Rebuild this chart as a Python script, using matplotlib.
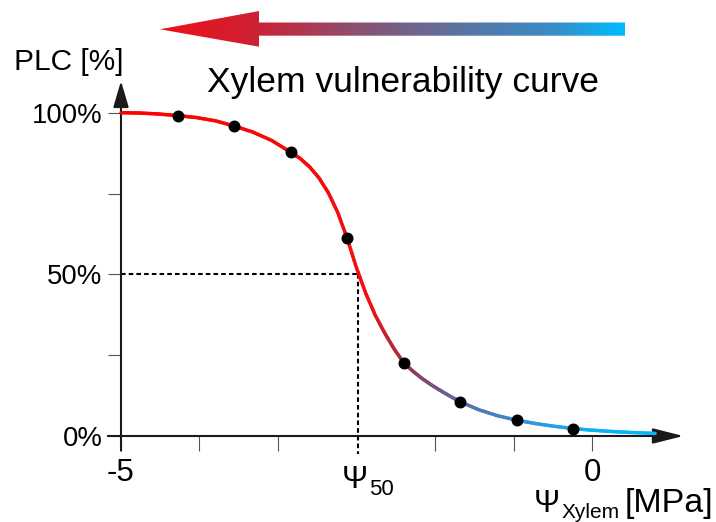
# ============================================================
# XYLEM VULNERABILITY CURVE
# PLC [%] vs Psi_Xylem [MPa]
# ============================================================

import numpy as np
import matplotlib.pyplot as plt
from matplotlib.collections import LineCollection
from matplotlib.colors import LinearSegmentedColormap
from matplotlib.patches import Polygon

plt.rcParams['font.family'] = ['Liberation Sans', 'DejaVu Sans']


# ============================================================
# 1. DATA
# ============================================================

# measured points
psi_meas = [-4.4, -3.8, -3.2, -2.6, -2.0, -1.4, -0.8, -0.2]
plc_meas = [99.1, 95.9, 87.8, 61.2, 22.7, 10.6, 4.9, 2.3]

# fitted curve
curve_psi = [-5.0, -4.8, -4.6, -4.4, -4.2, -4.0, -3.8, -3.6, -3.4, -3.2,
             -3.1, -3.0, -2.9, -2.8, -2.7, -2.6, -2.5, -2.4, -2.3, -2.2,
             -2.1, -2.0, -1.9, -1.8, -1.7, -1.6, -1.5, -1.4, -1.2, -1.0,
             -0.8, -0.6, -0.4, -0.2, 0.0, 0.2, 0.4, 0.67]
curve_plc = [100.0, 99.9, 99.6, 99.1, 98.5, 97.5, 95.9, 94.0, 91.4, 87.8,
             85.9, 83.3, 79.9, 75.3, 69.2, 61.2, 52.0, 44.0, 37.3, 31.8,
             26.9, 22.7, 20.0, 17.7, 15.7, 13.9, 12.2, 10.6, 8.1, 6.25,
             4.9, 3.85, 3.0, 2.3, 1.8, 1.4, 1.1, 0.8]

psi50 = -2.48

xtick_pos = [-5.0, -4.1667, -3.3333, -1.6667, -0.8333, 0.0]
xtick_lab = ['-5', '', '', '', '', '0']
ytick_pos = [0, 25, 50, 75, 100]
ytick_lab = ['0%', '', '50%', '', '100%']


# ============================================================
# 2. FIGURE / AXES
# ============================================================

W, H = 716, 522
fig = plt.figure(figsize=(W / 100, H / 100), dpi=100)

# plot area: -5..0 MPa and 0..100 %
ax = fig.add_axes([121 / W, 86 / H, 471 / W, 323.3 / H])
ax.set_xlim(-5, 0)
ax.set_ylim(0, 100)
ax.patch.set_visible(False)
for s in ax.spines.values():
    s.set_visible(False)

ax.set_xticks(xtick_pos)
ax.set_xticklabels(xtick_lab)
ax.set_yticks(ytick_pos)
ax.set_yticklabels(ytick_lab)
ax.tick_params(axis='x', direction='out', length=10.8, width=0.8,
               color='#555555', pad=5, labelsize=22.5)
ax.tick_params(axis='y', direction='out', length=9.4, width=0.8,
               color='#555555', pad=4.0, labelsize=19.8)


# ============================================================
# 3. AXIS ARROWS
# ============================================================

ax.annotate('', xy=(0.97, 0), xytext=(-5.14, 0),
            arrowprops=dict(arrowstyle='-|>,head_length=1.35,head_width=0.34',
                            mutation_scale=14, lw=1.5, color='#1a1a1a',
                            shrinkA=0, shrinkB=0),
            annotation_clip=False)
ax.annotate('', xy=(-5, 109.8), xytext=(-5, -4.5),
            arrowprops=dict(arrowstyle='-|>,head_length=1.15,head_width=0.34',
                            mutation_scale=14, lw=1.5, color='#1a1a1a',
                            shrinkA=0, shrinkB=0),
            annotation_clip=False)


# ============================================================
# 4. PSI50 DASHED GUIDES
# ============================================================

ax.plot([-5, psi50], [50, 50], color='black', lw=1.5,
        dashes=(2.2, 1.5), clip_on=False)
ax.plot([psi50, psi50], [50, -5.5], color='black', lw=1.5,
        dashes=(2.2, 1.5), clip_on=False)


# ============================================================
# 5. CURVE WITH RED -> BLUE GRADIENT
# ============================================================

curve_cmap = LinearSegmentedColormap.from_list('curve', [
    (0.00, '#ff0000'),
    (0.465, '#f21010'),
    (0.53, '#a03048'),
    (0.585, '#7a5080'),
    (0.64, '#5a70a8'),
    (0.75, '#3a90d0'),
    (0.86, '#10b0f0'),
    (1.00, '#00b8f8'),
])

cx = np.array(curve_psi)
cy = np.array(curve_plc)

segs = []
cols = []
for i in range(len(cx) - 1):
    # split each straight piece so the colour changes smoothly
    xs = np.linspace(cx[i], cx[i + 1], 9)
    ys = np.linspace(cy[i], cy[i + 1], 9)
    for j in range(8):
        segs.append([(xs[j], ys[j]), (xs[j + 1], ys[j + 1])])
        mid = 0.5 * (xs[j] + xs[j + 1])
        cols.append(curve_cmap((mid - cx[0]) / (cx[-1] - cx[0])))

lc = LineCollection(segs, colors=cols, linewidths=2.5,
                    capstyle='round', clip_on=False, zorder=3)
ax.add_collection(lc)

ax.plot(psi_meas, plc_meas, 'o', color='black', markersize=7.6,
        clip_on=False, zorder=4)


# ============================================================
# 6. OVERLAY: TOP ARROW AND LABELS (pixel coords)
# ============================================================

ov = fig.add_axes([0, 0, 1, 1])
ov.set_xlim(0, W)
ov.set_ylim(H, 0)
ov.axis('off')

arrow_cmap = LinearSegmentedColormap.from_list('arrow', [
    (0.00, '#ee1016'),
    (0.21, '#cc2236'),
    (0.42, '#8c5070'),
    (0.62, '#60709c'),
    (0.84, '#3a8cc6'),
    (1.00, '#00bbff'),
])

arrow_poly = Polygon([(160, 29.3), (259, 11), (259, 22.5), (625, 22.5),
                      (625, 35.7), (259, 35.7), (259, 46.7)],
                     closed=True, facecolor='none', edgecolor='none')
ov.add_patch(arrow_poly)
grad = np.linspace(0, 1, 256)[None, :]
im = ov.imshow(grad, cmap=arrow_cmap, extent=(160, 625, 47, 11),
               aspect='auto', interpolation='bilinear')
im.set_clip_path(arrow_poly)

ov.text(14, 70, 'PLC [%]', fontsize=21.5, va='baseline', ha='left')
ov.text(207, 92, 'Xylem vulnerability curve', fontsize=25.5,
        va='baseline', ha='left')

ov.text(342, 488, 'Ψ', fontsize=22.5, va='baseline', ha='left')
ov.text(369, 495, '50', fontsize=16, va='baseline', ha='left')

ov.text(534, 512, 'Ψ', fontsize=22.5, va='baseline', ha='left')
ov.text(562, 518, 'Xylem', fontsize=15, va='baseline', ha='left')
ov.text(625, 512, '[MPa]', fontsize=24.5, va='baseline', ha='left')

ov.set_xlim(0, W)
ov.set_ylim(H, 0)

plt.savefig('out.png', dpi=100)
